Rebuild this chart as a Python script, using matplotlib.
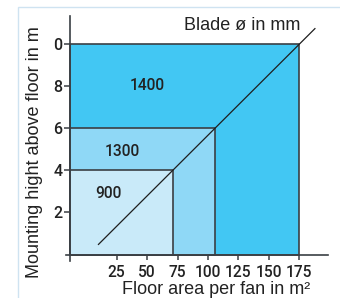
import matplotlib
matplotlib.use("Agg")
import matplotlib.pyplot as plt
from matplotlib.patches import Rectangle
from matplotlib import font_manager

# ---- data ----
blade_sizes = ["1400", "1300", "900"]
max_floor_area = [175, 106, 71]      # m² per fan
max_height = [10, 6, 4]              # mounting height in m
x_ticks = [25, 50, 75, 100, 125, 150, 175]
y_ticks = [2, 4, 6, 8, 10]
y_tick_labels = ["2", "4", "6", "8", "0"]
diag_x = [10, 188]
diag_y = [0.48, 10.75]

# ---- style ----
main_font = ["Liberation Sans", "DejaVu Sans"]
plt.rcParams["font.family"] = main_font
roboto_weights = {f.weight for f in font_manager.fontManager.ttflist if f.name == "Roboto"}
if any(w in (500, "medium", 600, "semibold") for w in roboto_weights):
    num_font = dict(family=["Roboto", "DejaVu Sans"], fontweight=500)
else:
    num_font = dict(family=main_font, fontweight="bold")

fills = ["#42c7f3", "#8fd8f6", "#c9eaf9"]
edge = "#3a3f44"
txt = "#222222"

fig = plt.figure(figsize=(3.4, 2.98), dpi=100)
fig.patches.append(Rectangle((17.5 / 340, -0.5), 2, 0.9765 + 0.5,
                             transform=fig.transFigure, fill=False,
                             edgecolor="#cfe3f1", lw=1.0))
ax = fig.add_axes([0.193, 0.1248, 0.7726, 0.8215])
x0 = -13
ax.set_xlim(-17, 199)
ax.set_ylim(-0.3, 11.35)

for w, h, c in zip(max_floor_area, max_height, fills):
    ax.bar(x0, h, width=w - x0, bottom=0, align="edge", color=c,
           edgecolor=edge, linewidth=1.2, zorder=1)

ax.plot(diag_x, diag_y, color="#1e1e1e", lw=0.9, zorder=3)

label_pos = [(50.5, 8.05), (29.8, 4.91), (18.1, 2.89)]
for s, (lx, ly) in zip(blade_sizes, label_pos):
    ax.text(lx, ly, s, ha="center", va="center", fontsize=11.2,
            color=txt, zorder=4, **num_font)

ax.text(176, 10.9, "Blade ø in mm", ha="right", va="center",
        fontsize=13, color=txt)

for s in ["top", "right"]:
    ax.spines[s].set_visible(False)
ax.spines["left"].set_position(("data", x0))
ax.spines["bottom"].set_position(("data", 0))
for s in ["left", "bottom"]:
    ax.spines[s].set_color(edge)
    ax.spines[s].set_linewidth(1.2)
    ax.spines[s].set_zorder(5)

ax.set_xticks(x_ticks)
ax.set_xticklabels([str(v) for v in x_ticks], fontsize=11.2, color=txt, **num_font)
ax.set_yticks(y_ticks)
ax.set_yticklabels(y_tick_labels, fontsize=11.5, color=txt, **num_font)
ax.tick_params(axis="x", direction="out", length=3.4, width=1.1, pad=4.0, color=edge)
ax.tick_params(axis="y", direction="out", length=4.3, width=1.1, pad=1.4, color=edge)

fig.text(216 / 340, 1 - 293.5 / 298, "Floor area per fan in m²", ha="center",
         va="baseline", fontsize=13, color=txt)
fig.text(35 / 340, 1 - 152.5 / 298, "Mounting hight above floor in m",
         rotation=90, ha="center", va="center", fontsize=13, color=txt)

fig.savefig("out.png", dpi=100)
